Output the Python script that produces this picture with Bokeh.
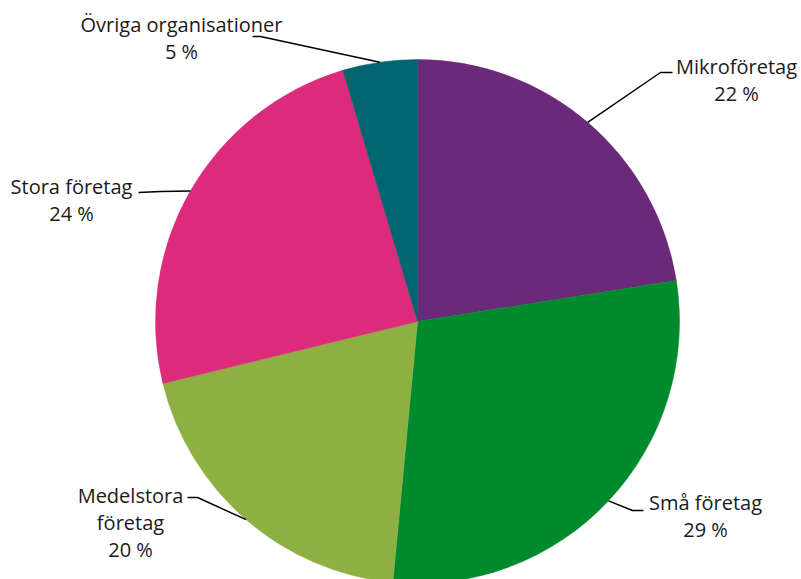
import math
from bokeh.plotting import figure
from bokeh.models import Range1d, ColumnDataSource
from bokeh.core.properties import value
from bokeh.embed import file_html
from bokeh.resources import INLINE

# ---- data ----
categories = ["Mikroföretag", "Små företag", "Medelstora företag", "Stora företag", "Övriga organisationer"]
shares = [22.5, 29.0, 19.7, 24.2, 4.6]
colors = ["#6B2979", "#008A2E", "#8CB142", "#DE2A7B", "#00656E"]

# ---- layout (image pixel coords, y down) ----
W, H = 801, 579
cx, cy, r = 417, 321, 262
label_lines = {
    "Mikroföretag": ["Mikroföretag"],
    "Små företag": ["Små företag"],
    "Medelstora företag": ["Medelstora", "företag"],
    "Stora företag": ["Stora företag"],
    "Övriga organisationer": ["Övriga organisationer"],
}
label_pos = {
    "Mikroföretag": (736, 66),
    "Små företag": (705, 502),
    "Medelstora företag": (130, 495),
    "Stora företag": (71, 186),
    "Övriga organisationer": (181, 24),
}
elbows = {
    "Mikroföretag": [(660, 72), (672, 72)],
    "Små företag": [(632, 510), (643, 510)],
    "Medelstora företag": [(197, 497), (187, 497)],
    "Stora företag": [(160, 191), (138, 192)],
    "Övriga organisationer": [(260, 36), (252, 36)],
}
line_h = 27

p = figure(width=W, height=H, output_backend="svg", toolbar_location=None,
           x_range=Range1d(0, W), y_range=Range1d(0, H),
           min_border=0)
p.axis.visible = False
p.grid.visible = False
p.outline_line_color = None
p.background_fill_color = "white"

total = sum(shares)
start = 0.0
starts, ends, mids = [], [], []
for v in shares:
    a0 = start
    a1 = start + v / total * 360.0
    starts.append(math.radians(90 - a0))
    ends.append(math.radians(90 - a1))
    mids.append((a0 + a1) / 2)
    start = a1

src = ColumnDataSource(dict(x=[cx] * len(shares), y=[H - cy] * len(shares),
                            start=ends, end=starts, color=colors))
p.wedge(x="x", y="y", radius=r, start_angle="start", end_angle="end",
        fill_color="color", line_color="color", line_width=0.5, source=src)

tx, ty, tt = [], [], []
for cat, v, m in zip(categories, shares, mids):
    ex = cx + r * math.sin(math.radians(m))
    ey = cy - r * math.cos(math.radians(m))
    pts = [(ex, ey)] + elbows[cat]
    p.line([q[0] for q in pts], [H - q[1] for q in pts], line_color="black", line_width=1.5)
    lx, ly = label_pos[cat]
    lines = label_lines[cat] + [f"{round(v)} %"]
    for i, s in enumerate(lines):
        tx.append(lx)
        ty.append(H - (ly + i * line_h))
        tt.append(s)

p.text(x=tx, y=ty, text=tt, text_align="center", text_baseline="middle",
       text_font=value("Open Sans"), text_font_size="20px", text_color="#1a1a1a")

open("out.html", "w").write(file_html(p, INLINE))
